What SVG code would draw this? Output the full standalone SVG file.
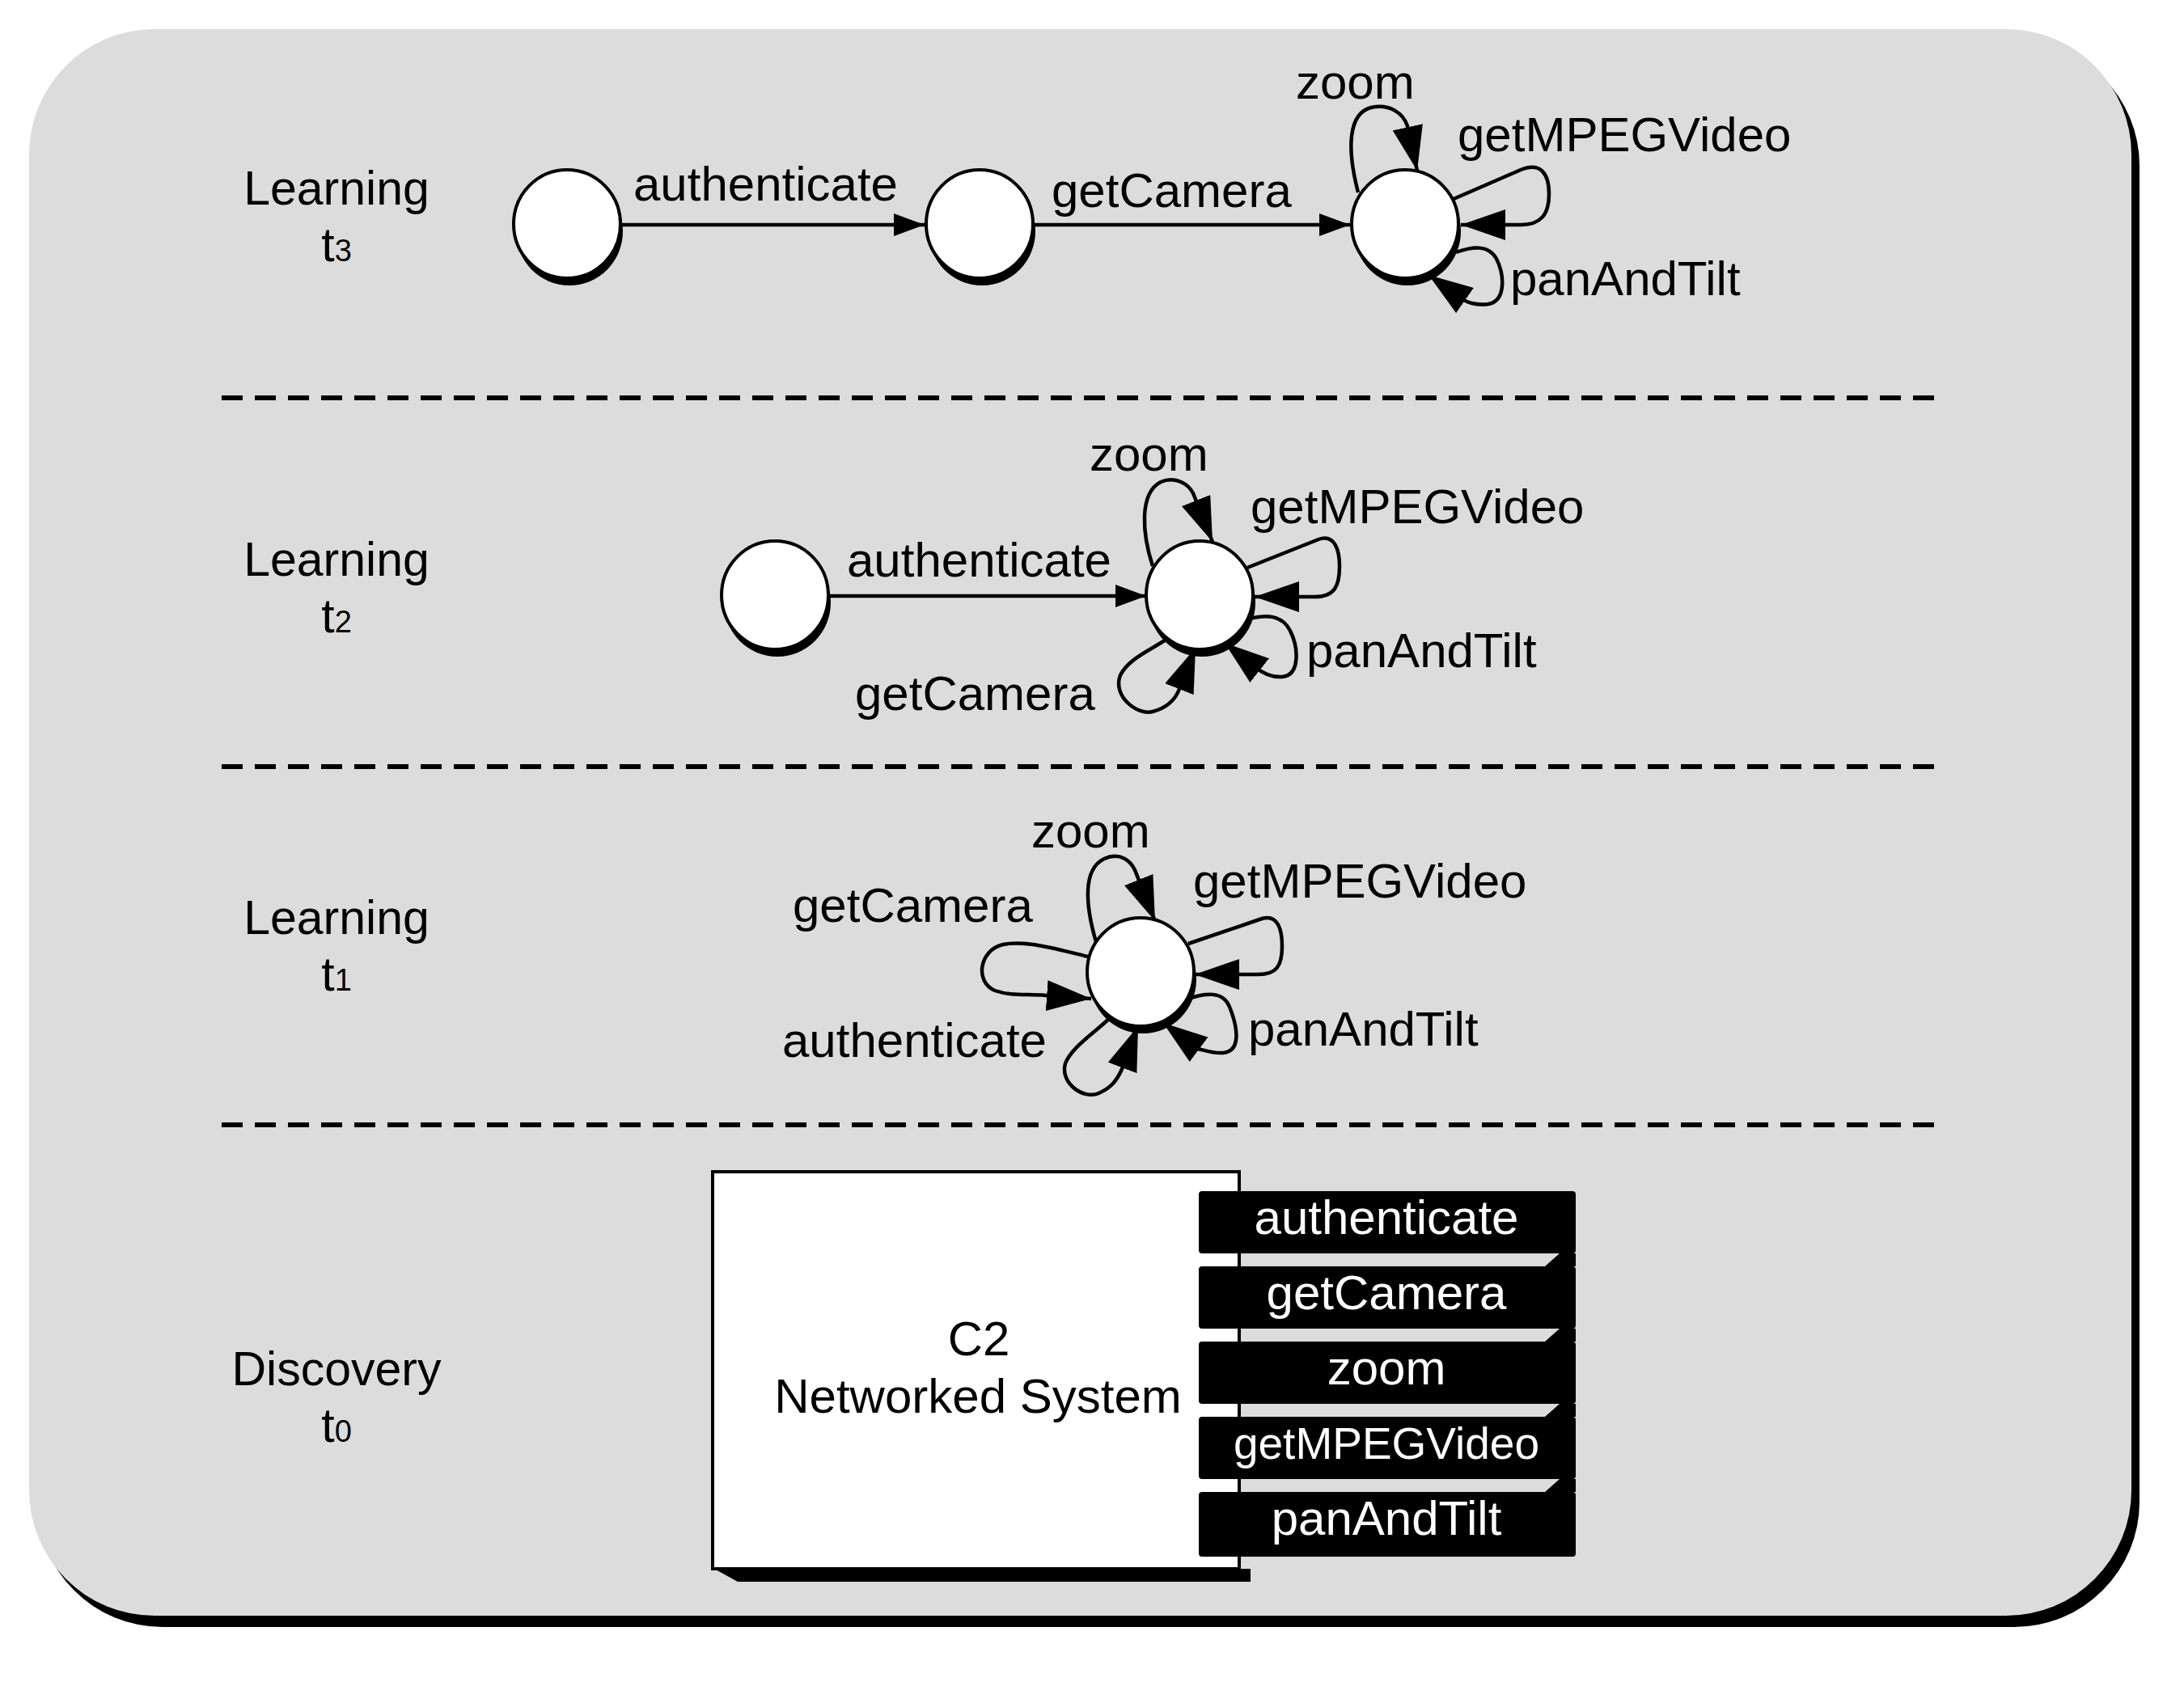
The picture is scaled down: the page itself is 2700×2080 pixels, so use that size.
<svg xmlns="http://www.w3.org/2000/svg" width="2700" height="2080" viewBox="0 0 2700 2080">
<defs>
<style>
text{font-family:"Liberation Sans",Arial,Helvetica,sans-serif;fill:#000;}
.lbl{font-size:60px;}
.side{font-size:59px;text-anchor:middle;}
.sub{font-size:38px;}
.port{font-size:60px;fill:#fff;text-anchor:middle;}
.edge{fill:none;stroke:#000;stroke-width:4.5;}
.st{fill:#fff;stroke:#000;stroke-width:4;}
.sh{fill:#000;}
.dash{stroke:#000;stroke-width:6;stroke-dasharray:26 15;}
</style>
<marker id="arS" viewBox="0 0 38 28" refX="38" refY="14" markerWidth="38" markerHeight="28" markerUnits="userSpaceOnUse" orient="auto">
<path d="M0,0 L38,14 L0,28 Z" fill="#000"/>
</marker>
<marker id="arL" viewBox="0 0 55 38" refX="55" refY="19" markerWidth="55" markerHeight="38" markerUnits="userSpaceOnUse" orient="auto">
<path d="M0,0 L55,19 L0,38 Z" fill="#000"/>
</marker>
</defs>

<g id="background">
<rect x="46" y="50" width="2599" height="1962" rx="155" ry="155" fill="#000"/>
<rect x="36" y="36" width="2599" height="1962" rx="155" ry="155" fill="#dcdcdc"/>
</g>

<g id="separators">
<line class="dash" x1="274" y1="492" x2="2395" y2="492"/>
<line class="dash" x1="274" y1="948" x2="2395" y2="948"/>
<line class="dash" x1="274" y1="1391" x2="2395" y2="1391"/>
</g>

<g id="phase-labels">
<text class="side" x="416" y="253">Learning</text>
<text class="side" x="416" y="323">t<tspan class="sub">3</tspan></text>
<text class="side" x="416" y="712">Learning</text>
<text class="side" x="416" y="782">t<tspan class="sub">2</tspan></text>
<text class="side" x="416" y="1155">Learning</text>
<text class="side" x="416" y="1225">t<tspan class="sub">1</tspan></text>
<text class="side" x="416" y="1713">Discovery</text>
<text class="side" x="416" y="1783">t<tspan class="sub">0</tspan></text>
</g>

<g id="connectors">
<!-- t3 -->
<path class="edge" marker-end="url(#arS)" d="M767,278 L1143,278"/>
<path class="edge" marker-end="url(#arS)" d="M1278,278 L1669,278"/>
<path class="edge" marker-end="url(#arL)" d="M1679,238 C1664,180 1668,140 1695,133 C1718,128 1735,140 1740,156 L1752,211"/>
<path class="edge" marker-end="url(#arL)" d="M1797,246 L1880,210 C1905,200 1915,215 1915,240 C1915,265 1905,278 1880,278 L1806,278"/>
<path class="edge" marker-end="url(#arL)" d="M1800,312 C1820,305 1840,302 1850,320 C1860,340 1862,372 1840,376 C1825,378 1812,374 1806,368 L1766,340"/>
<!-- t2 -->
<path class="edge" marker-end="url(#arS)" d="M1024,737 L1417,737"/>
<path class="edge" marker-end="url(#arL)" d="M1425,700 C1412,660 1408,610 1435,596 C1455,588 1470,600 1475,610 L1499,670"/>
<path class="edge" marker-end="url(#arL)" d="M1542,702 L1630,667 C1650,660 1656,680 1656,700 C1656,725 1650,738 1625,738 L1551,738"/>
<path class="edge" marker-end="url(#arL)" d="M1545,765 C1565,760 1585,760 1595,780 C1605,800 1608,835 1585,837 C1570,838 1558,830 1552,825 L1514,795"/>
<path class="edge" marker-end="url(#arL)" d="M1443,790 C1420,805 1395,815 1385,835 C1375,860 1405,885 1425,880 C1440,876 1452,868 1458,852 L1478,801"/>
<!-- t1 -->
<path class="edge" marker-end="url(#arL)" d="M1355,1165 C1342,1120 1338,1075 1365,1062 C1385,1053 1398,1065 1403,1076 L1428,1139"/>
<path class="edge" marker-end="url(#arL)" d="M1469,1167 L1560,1136 C1580,1130 1585,1150 1585,1170 C1585,1195 1578,1205 1555,1205 L1477,1205"/>
<path class="edge" marker-end="url(#arL)" d="M1345,1183 C1310,1175 1270,1162 1240,1168 C1210,1175 1205,1215 1230,1225 C1250,1232 1270,1229 1293,1231 L1349,1235"/>
<path class="edge" marker-end="url(#arL)" d="M1373,1258 C1350,1280 1325,1295 1317,1315 C1310,1340 1340,1360 1358,1352 C1372,1346 1380,1338 1387,1322 L1407,1269"/>
<path class="edge" marker-end="url(#arL)" d="M1469,1235 C1490,1228 1512,1225 1520,1245 C1530,1270 1535,1300 1512,1302 C1500,1303 1490,1299 1481,1297 L1438,1265"/>
</g>

<g id="edge-labels">
<text class="lbl" x="783" y="248">authenticate</text>
<text class="lbl" x="1300" y="256">getCamera</text>
<text class="lbl" x="1602" y="122">zoom</text>
<text class="lbl" x="1802" y="187">getMPEGVideo</text>
<text class="lbl" x="1867" y="365">panAndTilt</text>

<text class="lbl" x="1047" y="713">authenticate</text>
<text class="lbl" x="1347" y="582">zoom</text>
<text class="lbl" x="1546" y="647">getMPEGVideo</text>
<text class="lbl" x="1615" y="825">panAndTilt</text>
<text class="lbl" x="1057" y="878">getCamera</text>

<text class="lbl" x="1275" y="1048">zoom</text>
<text class="lbl" x="1475" y="1110">getMPEGVideo</text>
<text class="lbl" x="980" y="1140">getCamera</text>
<text class="lbl" x="967" y="1307">authenticate</text>
<text class="lbl" x="1543" y="1293">panAndTilt</text>
</g>

<g id="t3-s0"><ellipse class="sh" cx="704" cy="286" rx="66" ry="67"/><ellipse class="st" cx="701" cy="277" rx="66" ry="67"/></g>
<g id="t3-s1"><ellipse class="sh" cx="1214" cy="286" rx="66" ry="67"/><ellipse class="st" cx="1211" cy="277" rx="66" ry="67"/></g>
<g id="t3-s2"><ellipse class="sh" cx="1740" cy="286" rx="66" ry="67"/><ellipse class="st" cx="1737" cy="277" rx="66" ry="67"/></g>
<g id="t2-s0"><ellipse class="sh" cx="961" cy="745" rx="66" ry="67"/><ellipse class="st" cx="958" cy="736" rx="66" ry="67"/></g>
<g id="t2-s1"><ellipse class="sh" cx="1486" cy="745" rx="66" ry="67"/><ellipse class="st" cx="1483" cy="736" rx="66" ry="67"/></g>
<g id="t1-s0"><ellipse class="sh" cx="1413" cy="1211" rx="66" ry="67"/><ellipse class="st" cx="1410" cy="1202" rx="66" ry="67"/></g>

<g id="c2-system">
<path class="sh" d="M883,1940 L1546,1940 L1546,1956 L912,1956 Z"/>
<rect x="881" y="1449" width="651" height="491" fill="#fff" stroke="#000" stroke-width="4"/>
<text class="side" x="1210" y="1676" style="font-size:60px">C2</text>
<text class="side" x="1209" y="1747" style="font-size:60px">Networked System</text>
</g>

<g id="port-authenticate">
<path class="sh" d="M1928,1550 L1948,1550 L1948,1566 L1910,1566 Z"/>
<rect x="1482" y="1473" width="466" height="77" rx="4" fill="#000"/>
<text class="port" x="1714" y="1526">authenticate</text>
</g>
<g id="port-getCamera">
<path class="sh" d="M1928,1643 L1948,1643 L1948,1659 L1910,1659 Z"/>
<rect x="1482" y="1566" width="466" height="77" rx="4" fill="#000"/>
<text class="port" x="1714" y="1619">getCamera</text>
</g>
<g id="port-zoom">
<path class="sh" d="M1928,1736 L1948,1736 L1948,1752 L1910,1752 Z"/>
<rect x="1482" y="1659" width="466" height="77" rx="4" fill="#000"/>
<text class="port" x="1714" y="1712">zoom</text>
</g>
<g id="port-getMPEGVideo">
<path class="sh" d="M1928,1829 L1948,1829 L1948,1845 L1910,1845 Z"/>
<rect x="1482" y="1752" width="466" height="77" rx="4" fill="#000"/>
<text class="port" x="1714" y="1804" style="font-size:55px">getMPEGVideo</text>
</g>
<g id="port-panAndTilt">
<rect x="1482" y="1845" width="466" height="80" rx="4" fill="#000"/>
<text class="port" x="1714" y="1898">panAndTilt</text>
</g>
</svg>
